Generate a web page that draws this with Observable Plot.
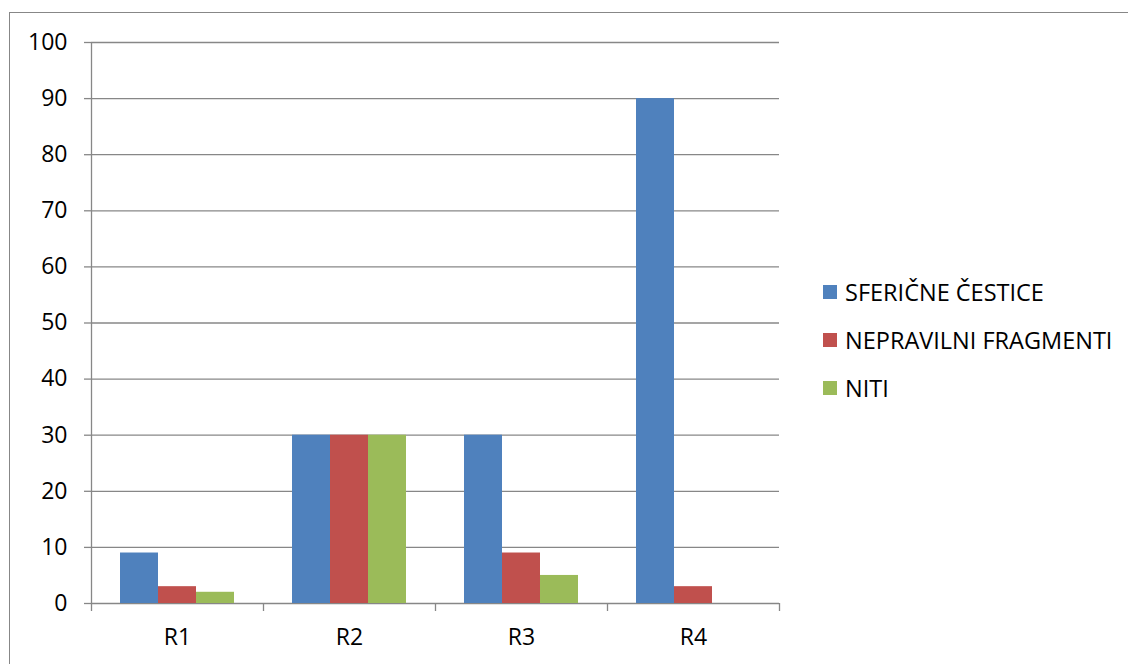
<!DOCTYPE html>
<html>
<head>
<meta charset="utf-8">
<script src="https://cdn.jsdelivr.net/npm/d3@7"></script>
<script src="https://cdn.jsdelivr.net/npm/@observablehq/plot@0.6"></script>
<style>
  html, body { margin: 0; padding: 0; background: #fff; overflow: hidden; }
  #wrap { position: relative; width: 1128px; height: 664px; font-family: "Open Sans", sans-serif; }
  #border { position: absolute; left: 9px; top: 12px; width: 1300px; height: 800px; border: 1.5px solid #878787; box-sizing: border-box; }
  #chart { position: absolute; left: 0; top: 0; }
  #chart svg text { font-size: 23px; }
  #legend { position: absolute; left: 823px; top: 0; font-size: 23.5px; color: #000; }
  .item { position: absolute; left: 0; display: flex; align-items: center; white-space: nowrap; transform: translateY(-50%); }
  .sw { width: 14px; height: 14px; margin-right: 8px; }
</style>
</head>
<body>
<div id="wrap">
  <div id="border"></div>
  <div id="chart"></div>
  <div id="legend"></div>
</div>
<script>
const categories = ["R1", "R2", "R3", "R4"];
const series = ["SFERIČNE ČESTICE", "NEPRAVILNI FRAGMENTI", "NITI"];
const colors = ["#4F81BD", "#C0504D", "#9BBB59"];
const sfericne = [9, 30, 30, 90];
const nepravilni = [3, 30, 9, 3];
const niti = [2, 30, 5, null];
const yTicks = [0, 10, 20, 30, 40, 50, 60, 70, 80, 90, 100];

const values = [sfericne, nepravilni, niti];
const data = [];
categories.forEach((c, i) => series.forEach((s, j) => {
  const v = values[j][i];
  if (v != null) data.push({ci: i, si: j, cat: c, series: s, value: v});
}));

// group layout within each category slot (fractions of one category step)
const groupFrac = 114 / 172;
const pad = (1 - groupFrac) / 2;
const w = groupFrac / series.length;

const gridColor = "#878787";
const font = "Open Sans, sans-serif";

const plot = Plot.plot({
  width: 1128,
  height: 664,
  marginLeft: 91,
  marginRight: 349,
  marginTop: 42,
  marginBottom: 61,
  style: {fontFamily: font, fontSize: "23px", color: "#000", background: "transparent"},
  x: {domain: [0, categories.length], axis: null},
  y: {domain: [0, 100], axis: null},
  color: {domain: series, range: colors},
  marks: [
    Plot.ruleY(yTicks, {stroke: gridColor, strokeWidth: 1.3}),
    Plot.rectY(data, {
      x1: d => d.ci + pad + d.si * w,
      x2: d => d.ci + pad + (d.si + 1) * w,
      y1: 0,
      y2: "value",
      fill: "series"
    }),
    Plot.ruleX([0], {y1: 0, y2: 100, stroke: gridColor, strokeWidth: 1.3}),
    Plot.axisY({ticks: yTicks, tickSize: 7, tickPadding: 17, stroke: gridColor, strokeWidth: 1.3, fill: "#000", fontSize: 23, label: null}),
    Plot.axisX({ticks: d3.range(categories.length + 1), tickSize: 8, tickFormat: () => "", stroke: gridColor, strokeWidth: 1.3, label: null}),
    Plot.axisX({ticks: categories.map((c, i) => i + 0.5), tickSize: 0, tickPadding: 25, tickFormat: v => categories[Math.floor(v)], fill: "#000", fontSize: 23, label: null})
  ]
});
document.getElementById("chart").appendChild(plot);

const legend = document.getElementById("legend");
const rowY = [292, 340, 388];
series.forEach((s, j) => {
  const item = document.createElement("div");
  item.className = "item";
  item.style.top = rowY[j] + "px";
  const sw = document.createElement("div");
  sw.className = "sw";
  sw.style.background = colors[j];
  const t = document.createElement("span");
  t.textContent = s;
  item.appendChild(sw);
  item.appendChild(t);
  legend.appendChild(item);
});
</script>
</body>
</html>
